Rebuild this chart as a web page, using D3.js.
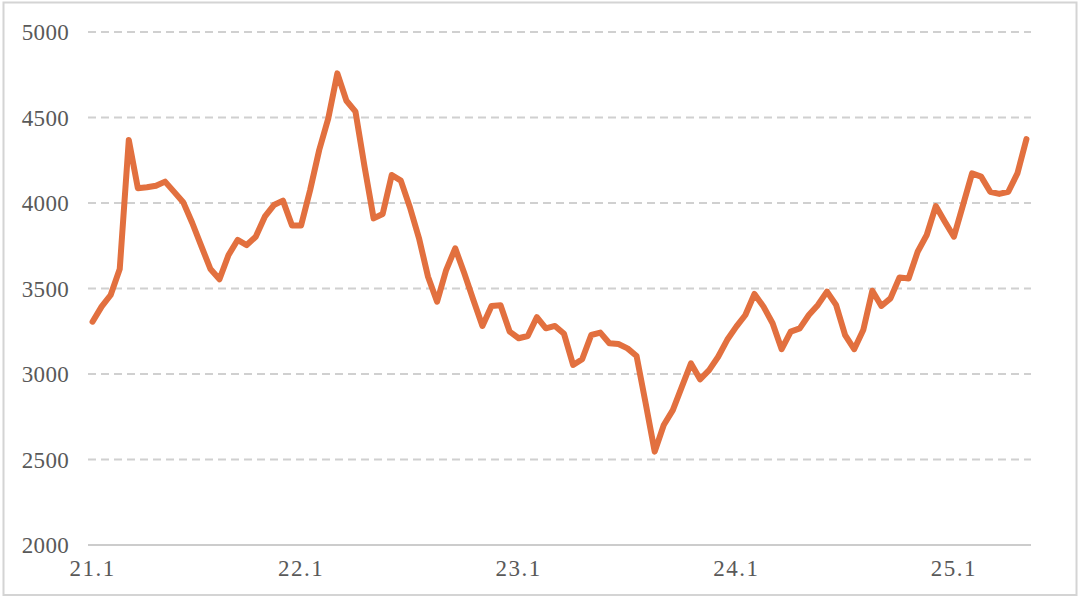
<!DOCTYPE html>
<html>
<head>
<meta charset="utf-8">
<script src="https://cdn.jsdelivr.net/npm/d3@7"></script>
<style>
  html, body { margin: 0; padding: 0; background: #fff; }
  svg { display: block; }
</style>
</head>
<body>
<svg id="chart" width="1080" height="598"></svg>
<script>
// Semi-monthly series values (index 0 = 21.1)
const values = [
  3306, 3394, 3462, 3614, 4368, 4086, 4092, 4101, 4125, 4065,
  4005, 3883, 3748, 3614, 3554, 3696, 3784, 3754, 3803, 3920,
  3988, 4014, 3868, 3868, 4076, 4310, 4495, 4758, 4598, 4534,
  4212, 3910, 3936, 4164, 4131, 3975, 3795, 3569, 3423, 3608,
  3735, 3589, 3433, 3281, 3398, 3402, 3248, 3209, 3222, 3332,
  3267, 3281, 3235, 3053, 3086, 3228, 3242, 3180, 3175, 3150,
  3105, 2829, 2546, 2702, 2789, 2926, 3062, 2969, 3023, 3101,
  3200, 3277, 3345, 3468, 3394, 3297, 3145, 3248, 3267, 3345,
  3404, 3482, 3404, 3228, 3145, 3257, 3487, 3398, 3442, 3565,
  3559, 3715, 3813, 3982, 3891, 3803, 3988, 4173, 4154, 4066,
  4053, 4066, 4173, 4374
];
const xTickLabels = ["21.1", "22.1", "23.1", "24.1", "25.1"];
const xTickIndex = [0, 23, 47, 71, 95];
const yTicks = [2000, 2500, 3000, 3500, 4000, 4500, 5000];

(function () {
const svg = d3.select("#chart");
const mLeft = 88, mRight = 1031, mTop = 32, mBottom = 545;

// outer frame
svg.append("rect")
  .attr("x", 3.5).attr("y", 2.5)
  .attr("width", 1073).attr("height", 592.5)
  .attr("fill", "none").attr("stroke", "#d4d4d4").attr("stroke-width", 2);

const x = d3.scalePoint()
  .domain(d3.range(values.length))
  .range([mLeft, mRight])
  .padding(0.5);

const y = d3.scaleLinear().domain([2000, 5000]).range([mBottom, mTop]);

// gridlines
svg.append("g")
  .selectAll("line")
  .data(yTicks.filter(d => d !== 2000))
  .join("line")
  .attr("x1", mLeft).attr("x2", mRight)
  .attr("y1", d => y(d)).attr("y2", d => y(d))
  .attr("stroke", "#d0d0d0")
  .attr("stroke-width", 2)
  .attr("stroke-dasharray", "8,5");

// x axis line
svg.append("line")
  .attr("x1", mLeft).attr("x2", mRight)
  .attr("y1", y(2000)).attr("y2", y(2000))
  .attr("stroke", "#cccccc").attr("stroke-width", 2);

// y tick labels
svg.append("g")
  .selectAll("text")
  .data(yTicks)
  .join("text")
  .attr("x", 69)
  .attr("y", d => y(d))
  .attr("dy", "0.35em")
  .attr("text-anchor", "end")
  .attr("font-family", "'Liberation Serif', 'DejaVu Serif', serif")
  .attr("font-size", 23)
  .attr("letter-spacing", 0.3)
  .attr("fill", "#595959")
  .text(d => d);

// x tick labels
svg.append("g")
  .selectAll("text")
  .data(xTickIndex)
  .join("text")
  .attr("x", d => x(d))
  .attr("y", 576)
  .attr("text-anchor", "middle")
  .attr("font-family", "'Liberation Serif', 'DejaVu Serif', serif")
  .attr("font-size", 23)
  .attr("letter-spacing", 1.5)
  .attr("fill", "#595959")
  .text((d, i) => xTickLabels[i]);

// line
const line = d3.line()
  .x((d, i) => x(i))
  .y(d => y(d));

svg.append("path")
  .datum(values)
  .attr("d", line)
  .attr("fill", "none")
  .attr("stroke", "#E2703F")
  .attr("stroke-width", 6)
  .attr("stroke-linejoin", "round")
  .attr("stroke-linecap", "round");
})();
</script>
</body>
</html>
